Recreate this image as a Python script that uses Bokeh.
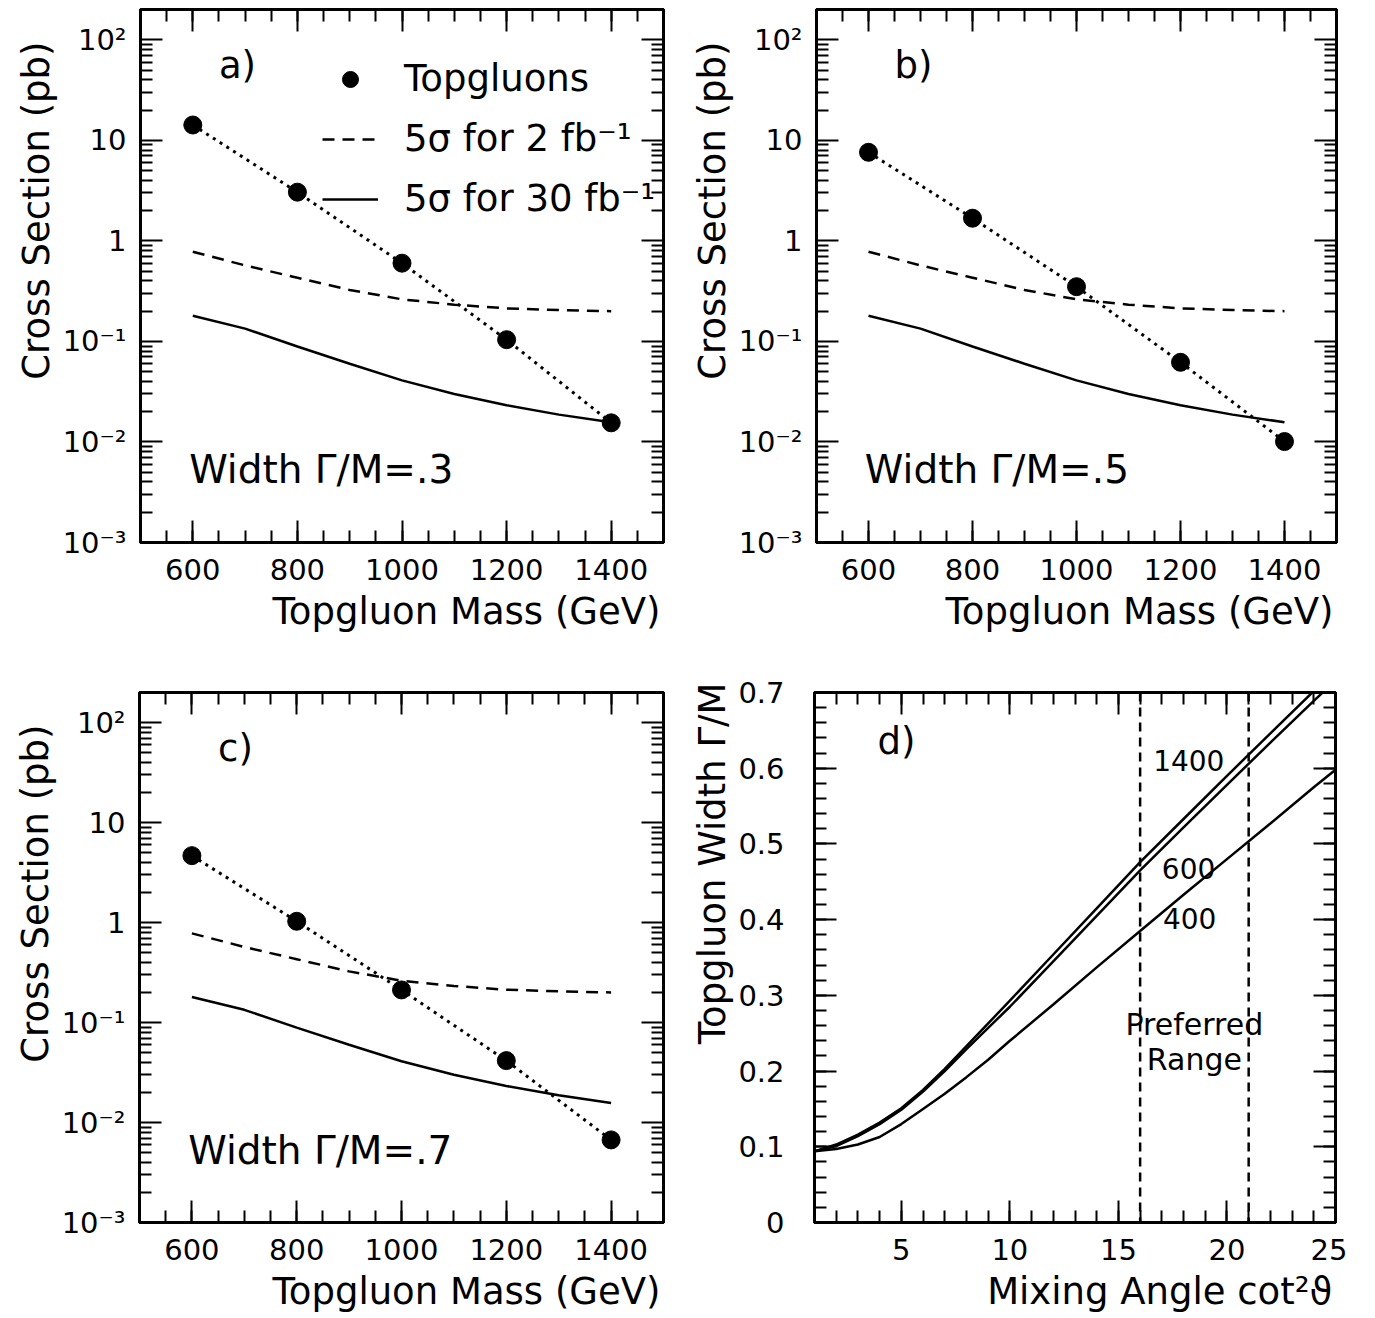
from bokeh.plotting import figure
from bokeh.models import (LinearAxis, LogAxis, FixedTicker, SingleIntervalTicker, Title,
                          CustomJSTickFormatter, Label, Span, Legend, LegendItem, Range1d)
from bokeh.layouts import column, row
from bokeh.embed import file_html
from bokeh.resources import INLINE

FONT = "DejaVu Sans"

# ---------------- data ----------------
masses = [600, 800, 1000, 1200, 1400]
topgluon_a = [14.2, 3.05, 0.60, 0.104, 0.0155]
topgluon_b = [7.6, 1.68, 0.35, 0.062, 0.0101]
topgluon_c = [4.67, 1.03, 0.212, 0.0416, 0.0067]

reach_masses = [600, 700, 800, 900, 1000, 1100, 1200, 1300, 1400]
reach_2fb = [0.78, 0.57, 0.43, 0.325, 0.262, 0.232, 0.213, 0.205, 0.200]
reach_30fb = [0.180, 0.134, 0.089, 0.060, 0.041, 0.030, 0.0232, 0.0187, 0.0157]

log_ticks = [0.001, 0.01, 0.1, 1, 10, 100]
log_tick_labels = ["10\u207b\u00b3", "10\u207b\u00b2", "10\u207b\u00b9", "1", "10", "10\u00b2"]
log_minor = [m * t for t in log_ticks for m in range(2, 10) if m * t <= 200]

cot2 = [1, 2, 3, 4, 5, 6, 7, 8, 9, 10, 12, 14, 16, 18, 20, 22, 24, 25]
width_400 = [0.094, 0.097, 0.103, 0.113, 0.130, 0.150, 0.170, 0.192, 0.215, 0.240,
             0.288, 0.337, 0.385, 0.433, 0.480, 0.527, 0.575, 0.598]
width_600 = [0.094, 0.101, 0.114, 0.130, 0.149, 0.173, 0.200, 0.229, 0.257, 0.285,
             0.345, 0.405, 0.465, 0.522, 0.578, 0.634, 0.689, 0.716]
width_1400 = [0.094, 0.103, 0.116, 0.132, 0.151, 0.175, 0.203, 0.233, 0.263, 0.293,
              0.354, 0.415, 0.476, 0.533, 0.590, 0.646, 0.702, 0.730]
preferred_range = [16, 21]

panel_letters = ["a)", "b)", "c)", "d)"]
width_texts = ["Width \u0393/M=.3", "Width \u0393/M=.5", "Width \u0393/M=.7"]
legend_labels = ["Topgluons", "5\u03c3 for 2 fb\u207b\u00b9", "5\u03c3 for 30 fb\u207b\u00b9"]
mass_labels = ["1400", "600", "400"]

BIG = "37px"
TICK = "29px"


def style_axis(ax, label_font=TICK):
    ax.axis_line_width = 3
    ax.axis_line_color = "black"
    ax.major_tick_in = 22
    ax.major_tick_out = 0
    ax.minor_tick_in = 12
    ax.minor_tick_out = 0
    ax.major_tick_line_width = 2
    ax.minor_tick_line_width = 2
    ax.major_tick_line_color = "black"
    ax.minor_tick_line_color = "black"
    ax.major_label_text_font = FONT
    ax.major_label_text_font_size = label_font
    ax.major_label_text_color = "black"
    ax.major_label_standoff = 14


def mirror_axes(p, xticker, yticker, log_y):
    blank = CustomJSTickFormatter(code="return ''")
    top = LinearAxis(ticker=xticker, formatter=blank)
    right = (LogAxis if log_y else LinearAxis)(ticker=yticker, formatter=blank)
    for ax in (top, right):
        style_axis(ax, label_font="0px")
        ax.major_label_standoff = 0
    p.add_layout(top, "above")
    p.add_layout(right, "right")


def base_fig(fw, fh, left, right, top, bottom, **kw):
    p = figure(frame_width=fw, frame_height=fh, min_border_left=left, min_border_right=right,
               min_border_top=top, min_border_bottom=bottom, output_backend="svg",
               toolbar_location=None, **kw)
    p.grid.visible = False
    p.outline_line_color = "black"
    p.outline_line_width = 3
    p.background_fill_color = "white"
    p.border_fill_color = "white"
    return p


def titles(p, xlabel, ylabel, yoffset):
    p.xaxis.major_label_standoff = 16
    p.add_layout(Title(text=xlabel, align="right", offset=3, standoff=10, text_font=FONT,
                       text_font_size=BIG, text_font_style="normal", text_color="black"),
                 "below")
    p.add_layout(Title(text=ylabel, align="right", offset=yoffset, standoff=4, text_font=FONT,
                       text_font_size=BIG, text_font_style="normal", text_color="black"),
                 "left")


def cross_panel(points, letter, wtext, fw, fh, left, right, top, bottom, with_legend=False):
    p = base_fig(fw, fh, left, right, top, bottom,
                 x_range=Range1d(500, 1500), y_range=Range1d(1e-3, 200), y_axis_type="log")
    xticker = SingleIntervalTicker(interval=200, num_minor_ticks=4)
    yticker = FixedTicker(ticks=log_ticks, minor_ticks=log_minor)
    p.xaxis.ticker = xticker
    p.yaxis.ticker = yticker
    p.yaxis.formatter = CustomJSTickFormatter(
        args=dict(tvals=log_ticks, tlabels=log_tick_labels),
        code="""
        for (let i = 0; i < tvals.length; i++) {
            if (Math.abs(Math.log10(tick) - Math.log10(tvals[i])) < 1e-6) return tlabels[i];
        }
        return '';
        """)
    for ax in p.xaxis + p.yaxis:
        style_axis(ax)
    titles(p, "Topgluon Mass (GeV)", "Cross Section (pb)", 32)
    mirror_axes(p, xticker, yticker, True)

    dash = p.line(reach_masses, reach_2fb, line_color="black", line_width=2.5, line_dash="12 8")
    solid = p.line(reach_masses, reach_30fb, line_color="black", line_width=2.5)
    p.line(masses, points, line_color="black", line_width=3, line_dash="3 5")
    pts = p.scatter(masses, points, marker="circle", size=18, fill_color="black", line_color="black")

    p.add_layout(Label(x=650, y=55, text=letter, text_font=FONT, text_font_size=BIG,
                       text_baseline="middle", text_align="left", text_color="black"))
    p.add_layout(Label(x=593, y=0.0053, text=wtext, text_font=FONT, text_font_size="39px",
                       text_baseline="middle", text_align="left", text_color="black"))
    if with_legend:
        lg = Legend(items=[LegendItem(label=legend_labels[0], renderers=[pts]),
                           LegendItem(label=legend_labels[1], renderers=[dash]),
                           LegendItem(label=legend_labels[2], renderers=[solid])],
                    location=(182, 322), orientation="vertical")
        lg.label_text_font = FONT
        lg.label_text_font_size = BIG
        lg.label_text_color = "black"
        lg.glyph_width = 56
        lg.glyph_height = 40
        lg.label_height = 40
        lg.label_standoff = 26
        lg.spacing = 17
        lg.padding = 0
        lg.margin = 0
        lg.border_line_color = None
        lg.background_fill_alpha = 0
        p.add_layout(lg)
    return p


pa = cross_panel(topgluon_a, panel_letters[0], width_texts[0], 523, 533, 140, 10, 9, 130, True)
pb = cross_panel(topgluon_b, panel_letters[1], width_texts[1], 520, 533, 143, 12, 9, 130)
pc = cross_panel(topgluon_c, panel_letters[2], width_texts[2], 524, 530, 139, 10, 20, 90)

# ---------------- panel d ----------------
pd = base_fig(521, 530, 141, 12, 20, 90, x_range=Range1d(1, 25), y_range=Range1d(0, 0.7001))
dx = SingleIntervalTicker(interval=5, num_minor_ticks=5)
dy = SingleIntervalTicker(interval=0.1, num_minor_ticks=5)
pd.xaxis.ticker = dx
pd.yaxis.ticker = dy
pd.yaxis.formatter = CustomJSTickFormatter(
    code="return Math.abs(tick) < 1e-9 ? '0' : tick.toFixed(1);")
for ax in pd.xaxis + pd.yaxis:
    style_axis(ax)
pd.yaxis.major_label_standoff = 30
titles(pd, "Mixing Angle cot\u00b2\u03d1", "Topgluon Width \u0393/M", -10)
mirror_axes(pd, dx, dy, False)

for ys in (width_400, width_600, width_1400):
    pd.line(cot2, ys, line_color="black", line_width=2.5)
for loc in preferred_range:
    pd.add_layout(Span(location=loc, dimension="height", line_color="black",
                       line_width=2.5, line_dash="9 6"))

pd.add_layout(Label(x=3.9, y=0.635, text=panel_letters[3], text_font=FONT, text_font_size=BIG,
                    text_baseline="middle", text_align="left", text_color="black"))
for txt, xx, yy in zip(mass_labels, [16.6, 17.0, 17.05], [0.61, 0.468, 0.402]):
    pd.add_layout(Label(x=xx, y=yy, text=txt, text_font=FONT, text_font_size="28px",
                        text_baseline="middle", text_align="left", text_color="black"))
pd.add_layout(Label(x=18.5, y=0.261, text="Preferred", text_font=FONT, text_font_size="30px",
                    text_baseline="middle", text_align="center", text_color="black"))
pd.add_layout(Label(x=18.5, y=0.215, text="Range", text_font=FONT, text_font_size="30px",
                    text_baseline="middle", text_align="center", text_color="black"))

layout = column(row(pa, pb), row(pc, pd))
open("out.html", "w").write(file_html(layout, INLINE))
